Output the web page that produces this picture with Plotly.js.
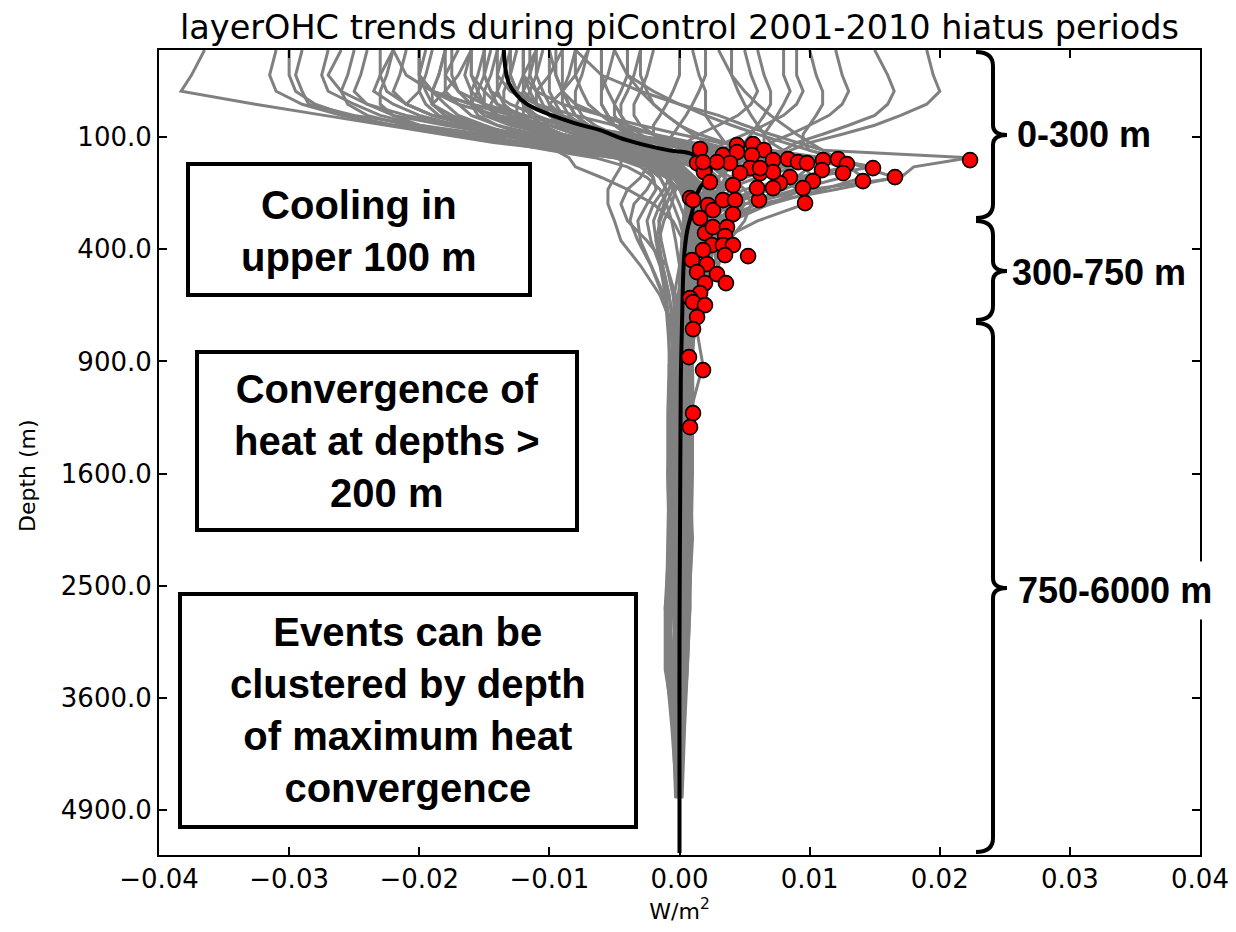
<!DOCTYPE html>
<html><head><meta charset="utf-8">
<script src="https://cdn.plot.ly/plotly-3.0.1.min.js"></script>
<style>body{margin:0;background:#fff}#chart{width:1236px;height:932px}</style>
</head><body><div id="chart"></div>
<script>
// depth levels (m) of each profile
const levelDepths = [5,20,35,50,65,80,95,110,125,140,160,185,215,255,305,370,460,580,730,920,1200,1600,2100,2700,3300,3900,4750];

// layer OHC trends, in 1e-3 W/m2, one row per hiatus event
const coldProfiles = [
[-36.5,-37.5,-38.3,-32.6,-27.3,-22.5,-18,-14.3,-9,-5,-2,-0.5,0.5,1,0.8,0.5,0.3,0.2,0.1,0.3,0.2,0.4,0.3,0.1,0.2,0.1,0],
[-29,-29.5,-29,-28.5,-25,-20,-15,-10,-6,-3,-1,0.3,1,1.2,0.8,0.4,0.2,0,0.2,-0.3,-0.4,-0.2,-0.3,-0.5,-0.2,-0.1,0],
[-26,-27,-26,-24,-22,-18,-14,-10,-6.5,-3.5,-1.2,0.5,1.5,1.3,0.9,0.6,0.3,0.1,0,0.5,0.6,0.7,0.5,0.3,0.2,0.1,0.1],
[-22,-23,-23.5,-22,-20,-17,-13,-9,-6,-3,-1.5,-0.3,0.8,1.5,1.2,0.6,0.2,0.1,-0.2,-0.6,-0.7,-0.5,-0.4,-0.8,-0.9,-0.3,-0.1],
[-19,-19.5,-20,-21,-19,-16,-12,-8,-5,-2.5,-0.8,0.2,0.6,0.8,0.4,0.2,0.1,0,0.3,0.4,0.3,0.2,0.4,0.6,0.5,0.2,0],
[-17,-18,-18,-17,-16,-14,-11,-8,-5,-2,-0.5,0.5,1,1.4,1.8,1.2,0.5,0.2,-0.3,-0.8,-0.6,-0.4,-0.2,-0.1,-0.3,-0.2,0],
[-15,-15.5,-16,-16,-15,-13,-10,-7,-4.5,-2.5,-1,0,0.5,0.8,0.6,0.5,0.3,0.2,0.1,0.7,0.8,0.9,0.6,0.4,0.2,0.1,0],
[-13,-13.5,-14,-14.5,-14,-12,-10,-7,-4,-1.5,0,0.8,1.5,2,1.5,0.8,0.4,0.2,0.1,-0.2,-0.3,-0.6,-0.8,-1.1,-0.6,-0.2,-0.1],
[-24,-24.5,-25,-24,-21,-17,-12,-7,-4,-2,-0.5,0.5,1,0.6,0.3,0.2,0.1,0,-0.4,-0.5,-0.3,-0.1,0.2,0.3,0.5,0.3,0.1],
[-18,-18.5,-19,-18,-17,-15,-13,-11,-9.5,-8.5,-8,-6,-4,-2,-0.5,0.3,0.6,0.4,0.2,0.1,0.2,0.3,0.1,0,0.1,0,0],
[-11,-12,-12.5,-12,-11,-10,-8,-6,-4,-3,-2.5,-3,-4,-4.5,-4,-2.5,-1,-0.3,0,-0.4,-0.6,-0.8,-0.9,-1,-0.7,-0.3,-0.1],
[-20,-20,-19,-16,-13,-10,-8,-6.5,-5,-4.5,-4.5,-5,-5.5,-5.5,-5,-4.5,-3,-1.5,-0.5,-0.2,0,0.2,0.4,0.2,0.1,0,0],
[-9,-10,-11,-11,-10,-9,-7,-5,-3,-1,0.3,1.2,2,2.5,2,1,0.5,0.2,0.1,0.3,0.5,0.8,1,0.7,0.5,0.3,0.1],
[-7,-8,-9,-10,-9.5,-8,-6,-4,-2,0,1.5,2.5,3,2.5,1.5,0.8,0.4,0.2,0.1,-0.1,-0.3,-0.2,0,0.2,0,-0.1,0],
[-31,-31.5,-31,-29,-26,-22,-17,-12,-7,-3.5,-1,0.5,0.8,0.5,0.3,0.2,0.1,0,-0.1,0.1,0.2,0,-0.2,-0.4,-0.3,-0.1,0],
[-16,-17,-18,-19,-18,-16,-14,-11,-8,-5,-2,-0.5,0.3,0.5,0.3,0.2,0,0.4,0.6,0.5,0.4,0.6,0.7,0.3,0.1,0,0],
[-13.5,-14,-14,-13.5,-12.5,-11,-9,-6.5,-4,-2,-0.5,0.5,1.2,1.6,1.3,0.8,0.4,0.2,0,-0.2,-0.1,0.1,0.2,0.1,0,0,0],
[-12,-12,-11.5,-11,-10,-8.5,-7,-5,-3,-1.5,-0.4,0.4,0.9,1.1,1,0.9,0.7,0.5,0.3,0.2,0.1,-0.1,-0.2,-0.3,-0.4,-0.2,0],
[-27,-27.5,-27,-25,-23,-20,-16,-12,-8,-4.5,-2,-0.5,0.4,0.6,0.5,0.3,0.2,0.1,0,0,0.1,0.2,0.3,0.2,0.1,0,0],
[-10.5,-11,-11.5,-12,-12,-11,-9.5,-7.5,-5,-3,-1.5,-0.5,0.2,0.7,1,1.1,0.8,0.5,0.2,0,-0.2,-0.4,-0.3,-0.2,0,0,0]
];
const warmProfiles = [
[-8,-6,-3,0,3,5,7,9,11,22.3,18,17,10,5,2.5,1.2,0.6,0.3,0.1,0,0.1,0,0,0,0,0,0],
[-5,-4,-2,0,2,4,6,8,10,12,14,16.6,12,6,3,1.5,0.6,0.3,0.1,0.2,0.3,0.2,0.1,0,0,0,0],
[-12,-12,-11,-9,-6,-3,0,3,7,11,14.9,10,6,3,1.5,0.8,0.4,0.2,0,-0.2,-0.3,-0.2,0,0,0,0,0],
[3,4,5,6,7,8,9,10,11,12,13,14.1,11,7,3,1.5,0.7,0.3,0.1,0.2,0.1,0,-0.1,0,0,0,0],
[-18,-18,-17,-15,-12,-8,-4,0,4,9,12.9,9,5,2.5,1.2,0.6,0.3,0.1,0,0.1,0.2,0.3,0.2,0.1,0,0,0],
[10,10.5,11,11,10.5,10,9.5,9.5,10,12.2,9,6,3.5,2,1,0.5,0.2,0.1,0,-0.1,0,0.1,0,0,0,0,0],
[-22,-21,-19,-16,-12,-8,-4,0,5,11,8,5,3,1.5,0.8,0.4,0.2,0.1,0,0.2,0.4,0.5,0.3,0.1,0,0,0],
[15,16,16.5,16,15,13,11,9,8,8.5,9.5,10.3,8,5,2.5,1.2,0.6,0.3,0.1,0,0,0,0,0,0,0,0],
[-4,-4,-3,-2,-1,0,1,2,4,6,8,9,9.5,7,4,2,1,0.4,0.2,0,-0.2,-0.3,-0.1,0,0,0,0],
[6,6.5,7,7,6.5,6,5.5,5,5,5.5,6.5,8,9,9.6,6,3,1.5,0.6,0.2,0.1,0,0,0,0,0,0,0],
[-14,-14,-13,-11,-8,-5,-2,1,5,9.1,7,4,2.5,1.5,0.8,0.4,0.2,0.1,0,0,0.1,0.2,0.1,0,0,0,0],
[19,19.5,20,19,17,15,12.5,10,8.5,8.3,7,5,3,1.8,1,0.5,0.2,0.1,0,0,0,0,0,0,0,0,0],
[-10,-9.5,-9,-8,-6,-4,-2,0,2,4,6,7.7,6,4,2,1,0.5,0.2,0.1,0,0,0,0,0,0,0,0],
[8,8,8.5,8,7.5,7,6.5,6.5,7,7.2,6,4,2.5,1.5,0.8,0.4,0.2,0.1,0,0,0,0,0,0,0,0,0],
[-20,-20,-19,-17,-14,-10,-6,-2,2,5,6,5,3.5,2,1,0.5,0.2,0.1,0,0,0,0,0,0,0,0,0],
[-3,-3,-2.5,-2,-1,0,1.5,3.5,5.6,5,4,3,2,1.2,0.7,0.3,0.1,0,0,0,0,0,0,0,0,0,0],
[12,12.5,13,12.5,11.5,10,8.5,7,6.5,5.5,4,3,2,1.2,0.6,0.3,0.1,0,0,0,0,0,0,0,0,0,0],
[-13,-13,-12.5,-11,-9,-7,-5,-2,1,3,4.5,4,3,2,1,0.5,0.2,0.1,0,0,0,0,0,0,0,0,0],
[1,1.5,2,2,2,2.5,3,3.5,4.4,4,3.5,3,2,1.2,0.6,0.3,0.1,0,0,0,0,0,0,0,0,0,0],
[-8,-8,-7.5,-7,-6,-5,-3.5,-1.5,0.5,2,3.3,3.5,3,2,1,0.5,0.2,0.1,0,0,0,0,0,0,0,0,0],
[-16,-16,-15,-14,-12,-9,-5,-1,3,7,10,9,7,4,2,1,0.5,0.2,0.1,0,0,0,0,0,0,0,0],
[4,4,4.5,5,5.5,6,6.5,7,8,9.5,11,12.5,9,5,2.5,1.2,0.5,0.2,0.1,0,0,0,0,0,0,0,0]
];
const deepProfiles = [
[-12,-12,-12,-11,-10,-9,-7.5,-6,-4,-2,-0.5,1,2.5,3.5,4.1,3.5,2.5,1.2,0.5,0.2,0.1,0.3,0.2,0,0,0,0],
[-5,-5.5,-6,-6,-5.5,-5,-4,-3,-2,-1,0,1,2,3.4,3.6,3.5,3,2,0.8,0.3,0.1,-0.2,-0.3,0,0,0,0],
[-15,-15,-14.5,-13,-11,-9,-7,-5,-3,-1.5,-0.5,0.5,1,1.5,2,2.5,2.9,1.5,0.6,0.2,0.1,0,0.2,0.4,0.3,0,0],
[-9,-9,-9,-8.5,-8,-7,-6,-4.5,-3,-1.5,-0.3,0.5,1.2,1.8,2.2,2.3,2.2,2,1.3,0.6,0.2,0,0,0,0,0,0],
[-3,-3.5,-4,-4.5,-4.5,-4,-3.5,-2.5,-1.5,-0.5,0.3,0.8,1.2,1.5,1.8,2,2.1,1.7,1.1,0.5,0.2,0.1,0,0,0,0,0],
[-7,-7.5,-8,-8,-7.5,-6.5,-5,-3.5,-2,-1,0,0.5,1,1.2,1.4,1.5,1.6,1.4,1.3,1.8,0.8,0.3,0.1,0,0,0,0],
[-11,-11,-10.5,-10,-9,-8,-6.5,-5,-3.5,-2,-1,0,0.5,0.8,1,1.2,1.3,1.2,1.1,1,1.05,0.5,0.2,0,0,0,0],
[2,2,1.5,1,0.5,0,-0.5,-1,-1,-0.5,0,0.5,1,1.5,1.8,2,1.5,1,0.8,0.7,0.8,0.5,0.2,0.1,0,0,0],
[-6,-6,-6,-6,-5.5,-5,-4,-3,-2,-1,-0.5,0,0.3,0.5,0.8,0.7,0.5,0.4,0.3,0.2,0,-0.3,-0.5,-1.1,-1.1,-0.4,0],
[-4,-4,-4.5,-5,-5,-4.5,-3.5,-2.5,-1.5,-0.5,0.2,0.8,1.2,1.4,1.3,1.2,1,0.9,0.9,1,1,1,0.9,0.8,0.6,0.4,0.2],
[-16,-16.5,-16,-15,-13,-11,-9,-6,-3.5,-2,-1,-0.8,-1.2,-2,-2.5,-2.2,-1.5,-1,-0.8,-0.8,-0.9,-0.9,-0.8,-0.7,-0.6,-0.5,-0.3]
];
const mixedProfiles = [
[-21,-21.5,-22,-21,-19,-16,-12.5,-9,-6,-3.5,-1.5,-0.3,0.6,1,1.3,1,0.6,0.3,-0.2,-0.5,-0.7,-0.9,-0.8,-0.6,-0.8,-0.5,-0.2],
[-14,-14.5,-15,-15,-14,-12.5,-10.5,-8,-5.5,-3.5,-2,-1,-0.5,0,0.5,0.8,0.6,0.4,0.6,0.8,0.7,0.5,0.6,0.4,0.3,0.2,0.1],
[-23,-23,-22.5,-21,-19,-16,-13,-10,-7,-4,-2,-1,-0.5,-1,-1.5,-1.8,-1.5,-1.1,-0.9,-0.7,-0.5,-0.3,-0.1,0.1,0.2,0.1,0],
[-17.5,-17.5,-17,-16,-14.5,-12.5,-10,-7.5,-5,-2.5,-0.5,1,2,2.5,2.8,2.2,1.5,0.9,0.5,0.3,0.5,0.6,0.4,0.2,0,-0.2,-0.1],
[-11.5,-11.5,-11,-10.5,-10,-9,-7.5,-5.5,-3.5,-1.5,0,1,1.8,2.5,3,3.2,2.6,1.6,0.9,0.4,-0.2,-0.4,-0.6,-0.4,-0.2,0,0],
[-25,-25.5,-26,-25.5,-24,-21,-17,-12.5,-8,-4.5,-2,-0.8,-0.3,-0.6,-1.2,-1.6,-1.3,-0.8,-0.4,-0.6,-0.8,-0.7,-0.5,-0.3,-0.5,-0.3,-0.1],
[-8,-8.5,-9,-9,-8.5,-7.5,-6,-4.5,-3,-1.5,-0.5,0.3,1,1.6,2.2,2.6,2.4,1.8,1.2,0.8,0.6,0.8,0.7,0.5,0.4,0.2,0.1],
[-19.5,-20,-20,-19.5,-18.5,-16.5,-14,-11,-8,-5,-3,-2,-1.8,-2.5,-3.2,-3,-2.2,-1.2,-0.6,-0.3,0,0.2,0.1,-0.3,-0.6,-0.4,-0.1],
[-2,-2.5,-3,-3.5,-3.5,-3,-2,-0.5,1.5,3.5,5,5.8,5.5,4.5,3.5,2.5,1.6,1,0.6,0.4,0.3,0.2,0.1,0,0,0,0],
[-13,-13,-12.5,-12,-11.5,-10.5,-9,-7,-5,-3.5,-2.5,-2,-2.5,-3.5,-3.8,-3.2,-2.2,-1.3,-0.7,-0.4,-0.2,0,0.2,0.3,0.2,0,0],
[-16,-16,-15.5,-15,-14,-12,-9.5,-6.5,-3.5,-1,1,2.3,3,3.2,2.6,1.8,1.1,0.6,0.3,0.1,-0.1,-0.2,-0.1,0,0.2,0.1,0],
[5,5.5,6,5.5,4.5,3,1.5,0.5,0.5,1.5,2.5,3.5,4.5,5,4.2,3,1.8,1,0.5,0.2,0.1,0.3,0.4,0.5,0.3,0.1,0],
[-30,-30,-29.5,-28,-25.5,-22,-18,-13.5,-9,-5,-2.5,-1,0,0.5,0.7,0.6,0.4,0.3,0.2,0.4,0.5,0.3,0.1,-0.1,0,0,0],
[-10,-10,-10,-9.5,-9,-8,-6.5,-4.5,-2.5,-0.5,1,1.8,2,1.7,1.2,0.6,0.2,-0.1,-0.3,-0.5,-0.6,-0.8,-0.7,-0.9,-1,-0.6,-0.2],
[-18,-18.5,-19,-19,-18,-16,-13.5,-10.5,-7.5,-4.5,-2.5,-1.5,-1,-0.5,0,0.4,0.7,0.9,0.8,0.6,0.4,0.2,0,0.2,0.4,0.3,0.1],
[0,0,-0.5,-1,-1.5,-2,-2,-1.5,-0.5,1,2.5,4,5,5.5,5,3.8,2.5,1.5,0.8,0.4,0.2,0.1,0,0,0,0,0],
[-12.5,-13,-13.5,-13.5,-13,-12,-10.5,-8.5,-6,-3.5,-1.5,-0.2,0.7,1.2,1.4,1.3,1,0.6,0.3,0.1,0.3,0.5,0.7,0.8,0.6,0.3,0.1],
[-15,-15,-14.5,-14,-13,-11.5,-9.5,-7,-4.5,-2.5,-1.2,-0.6,-0.8,-1.5,-2,-1.8,-1.3,-0.8,-0.5,-0.3,-0.2,-0.4,-0.6,-0.8,-0.6,-0.3,0],
[-6,-6,-5.5,-5,-4.5,-4,-3,-2,-0.5,1,2.5,3.5,4,4.2,3.6,2.8,2,1.3,0.7,0.3,0.1,-0.1,-0.3,-0.2,0,0,0],
[-22,-22.5,-23,-23,-22,-20,-17,-13.5,-10,-6.5,-4,-2.5,-1.5,-1,-0.6,-0.3,0,0.2,0.3,0.2,0.1,0.3,0.5,0.6,0.5,0.2,0],
[-9.5,-9.5,-9,-8.5,-8,-7,-5.5,-3.5,-1.5,0.5,2,3,3.2,2.5,1.5,0.6,0,-0.4,-0.5,-0.4,-0.3,-0.5,-0.8,-1,-0.8,-0.4,-0.1],
[-14.5,-15,-15.5,-16,-15.5,-14,-12,-9.5,-7,-4.5,-2.5,-1,0,0.8,1.4,1.6,1.4,1,0.7,0.6,0.8,0.6,0.3,0.1,0,0,0],
[9,9,9.5,9,8,6.5,5,3.5,2.5,2.5,3,3.5,3.8,3.5,2.8,2,1.2,0.7,0.3,0.1,0,-0.2,-0.3,-0.4,-0.2,0,0],
[-11,-11.5,-12,-12.5,-12.5,-11.5,-10,-8,-6,-4,-2.5,-1.5,-1,-1.2,-1.6,-1.4,-1,-0.5,-0.2,0,0.2,0.4,0.3,0.2,0.1,0,0],
[-20,-20,-19.5,-19,-17.5,-15.5,-12.5,-9.5,-6.5,-3.5,-1.2,0.4,1.4,2,2.2,1.8,1.2,0.7,0.4,0.2,0,-0.1,0,0.1,0,0,0]
];

// depth (m) and value (W/m2) of maximum heat convergence of each event
const maxDepth = [122.5,114.8,112.9,124.5,134.7,128.5,134.7,145.2,143.1,149.5,151.7,145.2,143.1,153.9,162.9,184.0,193.8,174.5,167.5,193.8,211.6,252.3,184.0,198.8,211.6,243.9,211.6,174.5,162.9,174.5,203.9,151.7,149.5,151.7,172.1,196.3,238.3,243.9,258.0,272.5,243.9,243.9,284.4,296.6,344.4,324.9,324.9,354.4,385.3,385.3,385.3,421.1,424.7,439.6,454.6,485.5,493.5,529.7,529.7,571.6,593.1,610.6,623.9,678.4,735.3,876.9,946.9,1197.6,1285.5,145.2,172.1,403.0,149.5,162.9];
const maxFlux = [0.00158,0.00442,0.00565,0.00649,0.00334,0.00442,0.00557,0.00719,0.00834,0.00911,0.00980,0.01103,0.01218,0.01287,0.01487,0.01656,0.01410,0.01257,0.01095,0.01026,0.00949,0.00965,0.00849,0.00772,0.00719,0.00611,0.00596,0.00619,0.00542,0.00465,0.00411,0.00388,0.00288,0.00135,0.00188,0.00234,0.00081,0.00104,0.00219,0.00257,0.00334,0.00427,0.00411,0.00158,0.00196,0.00257,0.00365,0.00350,0.00250,0.00334,0.00411,0.00350,0.00527,0.00096,0.00211,0.00135,0.00288,0.00357,0.00196,0.00158,0.00081,0.00104,0.00196,0.00135,0.00104,0.00073,0.00181,0.00104,0.00081,0.02233,0.00719,0.00181,0.00181,0.00619];

// ensemble mean profile
const meanDepth = [5,27,49,77,88,105,125,131,152,170,190,209,240,273,335,400,478,692,1000,1800,3000,4500,5450];
const meanFlux = [-0.0135,-0.0131,-0.0118,-0.0080,-0.0061,-0.0041,-0.0008,0.0008,0.0023,0.0024,0.0021,0.0016,0.0012,0.0010,0.0006,0.0004,0.0003,0.0002,0.0001,0.00005,0.0,0.0,0.0];

const yTickDepths = [100,400,900,1600,2500,3600,4900];
const xTickVals = [-0.04,-0.03,-0.02,-0.01,0,0.01,0.02,0.03,0.04];

const toY = d => Math.sqrt(d);
const traces = [];
[...coldProfiles, ...warmProfiles, ...deepProfiles, ...mixedProfiles].forEach(p => {
  traces.push({type:'scatter', mode:'lines', x:p.map(v => v/1000), y:levelDepths.map(toY),
    line:{color:'#808080', width:3}, hoverinfo:'skip', showlegend:false});
});
traces.push({type:'scatter', mode:'lines', x:meanFlux, y:meanDepth.map(toY),
  line:{color:'black', width:4, shape:'spline'}, showlegend:false});
traces.push({type:'scatter', mode:'markers', x:maxFlux, y:maxDepth.map(toY),
  marker:{color:'#ff0000', size:15, line:{color:'black', width:1.6}}, showlegend:false});

// pixel -> paper helpers for decorations
const PL=159, PR=1200, PT=50, PB=855;
const X = p => ((p-PL)/(PR-PL)).toFixed(5);
const Y = p => ((PB-p)/(PB-PT)).toFixed(5);
function rect(x0,y0,x1,y1){
  return {type:'rect', xref:'paper', yref:'paper', x0:X(x0), x1:X(x1), y0:Y(y1), y1:Y(y0),
    line:{color:'black', width:4}, fillcolor:'white', layer:'above'};
}
function brace(yt, yb, yc){
  const xe=976, xs=993, xt=1007;
  const path = `M ${X(xe)},${Y(yt)} Q ${X(xs)},${Y(yt)} ${X(xs)},${Y(yt+14)} L ${X(xs)},${Y(yc-10)} ` +
    `Q ${X(xs)},${Y(yc)} ${X(xt)},${Y(yc)} Q ${X(xs)},${Y(yc)} ${X(xs)},${Y(yc+10)} ` +
    `L ${X(xs)},${Y(yb-14)} Q ${X(xs)},${Y(yb)} ${X(xe)},${Y(yb)}`;
  return {type:'path', xref:'paper', yref:'paper', path:path, line:{color:'black', width:4}, layer:'above'};
}
const boldFont = s => ({family:'Liberation Sans, Arial, sans-serif', size:s, color:'black', weight:'bold'});
function boxText(cx, cy, txt){
  return {xref:'paper', yref:'paper', x:X(cx), y:Y(cy), xanchor:'center', yanchor:'middle',
    text:txt, showarrow:false, align:'center', font:boldFont(40)};
}
function braceLabel(lx, cy, txt, bg){
  const a = {xref:'paper', yref:'paper', x:X(lx), y:Y(cy), xanchor:'left', yanchor:'middle',
    text:txt, showarrow:false, font:boldFont(36)};
  if (bg) { a.bgcolor='white'; a.borderpad=8; }
  return a;
}

const axisCommon = {showline:true, linecolor:'black', linewidth:2, mirror:'ticks', ticks:'inside',
  ticklen:8, tickwidth:1.5, tickcolor:'black', showgrid:false, zeroline:false,
  tickfont:{family:'DejaVu Sans', size:26, color:'black'}};

const layout = {
  width:1236, height:932, margin:{l:PL, r:1236-PR, t:PT, b:932-PB},
  paper_bgcolor:'white', plot_bgcolor:'white', showlegend:false,
  title:{text:'layerOHC trends during piControl 2001-2010 hiatus periods',
    font:{family:'DejaVu Sans', size:33.5, color:'black'}, xref:'paper', x:0.5, xanchor:'center',
    yref:'container', y:1-27/932, yanchor:'middle'},
  xaxis:Object.assign({}, axisCommon, {range:[-0.04,0.04], tickvals:xTickVals, tickformat:'.2f',
    title:{text:'W/m<sup>2</sup>', font:{family:'DejaVu Sans', size:22, color:'black'}, standoff:10}}),
  yaxis:Object.assign({}, axisCommon, {range:[toY(5475), toY(5)], tickvals:yTickDepths.map(toY),
    ticktext:yTickDepths.map(d => d.toFixed(1))}),
  shapes:[rect(188,164,530,295), rect(197,352,577,530), rect(180,594,636,827),
    brace(52,218,135), brace(221,320,271), brace(323,852,588)],
  annotations:[
    {xref:'paper', yref:'paper', x:X(28), y:Y(476), xanchor:'center', yanchor:'middle', textangle:-90,
      text:'Depth (m)', showarrow:false, font:{family:'DejaVu Sans', size:22, color:'black'}},
    boxText(359,231,'Cooling in<br>upper 100 m'),
    boxText(387,441,'Convergence of<br>heat at depths ><br>200 m'),
    boxText(408,710,'Events can be<br>clustered by depth<br>of maximum heat<br>convergence'),
    braceLabel(1015,135,'0-300 m', false),
    braceLabel(1010,272,'300-750 m', false),
    braceLabel(1009,590,'750-6000 m', true)
  ]
};
Plotly.newPlot('chart', traces, layout, {displayModeBar:false, responsive:false});
</script></body></html>
